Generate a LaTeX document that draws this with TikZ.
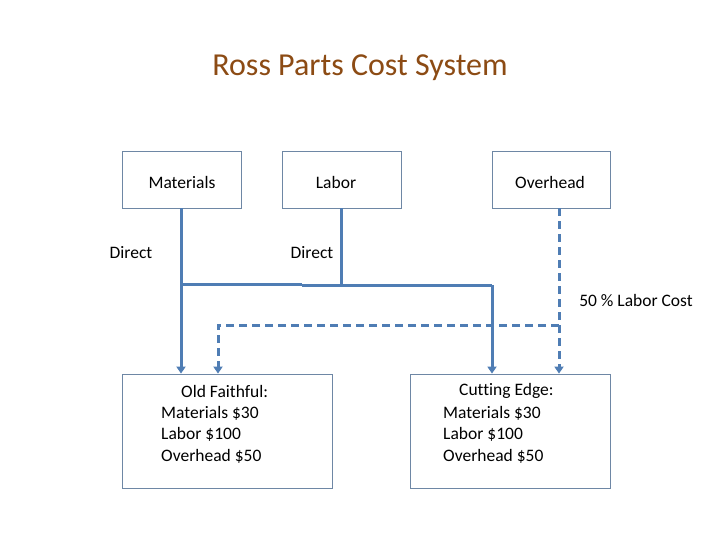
\documentclass[tikz,border=0pt]{standalone}
\usepackage{fontspec}
\setmainfont[Ligatures=CommonOff]{Carlito}
\usetikzlibrary{arrows.meta}
\definecolor{titlecol}{RGB}{140,75,20}
\definecolor{linecol}{RGB}{79,125,180}
\definecolor{boxcol}{RGB}{110,135,165}
\begin{document}
\begin{tikzpicture}[x=1pt,y=-1pt,
  box/.style={draw=boxcol,line width=0.8pt,fill=white,inner sep=0pt},
  conn/.style={draw=linecol,line width=3pt},
  dconn/.style={draw=linecol,line width=3pt,dash pattern=on 8pt off 5pt},
  arr/.style={-{Triangle[width=9pt,length=7pt]}},
  lbl/.style={font=\fontsize{17.5}{20}\selectfont,inner sep=0pt}]
\useasboundingbox (0,0) rectangle (720,540);
\node[font=\fontsize{32}{38}\selectfont,text=titlecol] (title) at (360,68) {Ross Parts Cost System};
% top boxes
\node[box,minimum width=119pt,minimum height=57pt] (mat) at (181.5,179.5) {};
\node[lbl] at (182,182) {Materials};
\node[box,minimum width=119pt,minimum height=57pt] (lab) at (341.5,179.5) {};
\node[lbl] at (336,182) {Labor};
\node[box,minimum width=118pt,minimum height=57pt] (ovh) at (551,179.5) {};
\node[lbl] at (550,182) {Overhead};
% bottom boxes
\node[box,minimum width=210pt,minimum height=114pt] (of) at (227,431) {};
\node[box,minimum width=200pt,minimum height=114pt] (ce) at (510,431) {};
\node[lbl,anchor=west] (of1) at (181,391) {Old Faithful:};
\node[lbl,anchor=west] (of2) at (161,413) {Materials \$30};
\node[lbl,anchor=west] (of3) at (161,434) {Labor \$100};
\node[lbl,anchor=west] (of4) at (161,456) {Overhead \$50};
\node[lbl,anchor=west] (ce1) at (459,391) {Cutting Edge:};
\node[lbl,anchor=west] (ce2) at (443,413) {Materials \$30};
\node[lbl,anchor=west] (ce3) at (443,434) {Labor \$100};
\node[lbl,anchor=west] (ce4) at (443,456) {Overhead \$50};
% labels
\node[lbl] (d1) at (131,253) {Direct};
\node[lbl] (d2) at (312,253) {Direct};
\node[lbl] (lc) at (636,300) {50 \% Labor Cost};
% junction coordinates
\coordinate (j1) at (181,284);
\coordinate (j2) at (302,284);
\coordinate (j3) at (302,285);
\coordinate (j4) at (341,285);
\coordinate (j5) at (492,285);
\coordinate (k1) at (559,325);
\coordinate (k2) at (218,325);
% solid connectors
\draw[conn,arr] (mat.south -| j1) -- (of.north -| j1);
\draw[conn] (j1) -- (j2);
\draw[conn] (j3) -- (j5);
\draw[conn] (lab.south -| j4) -- (j4);
\draw[conn,arr] (j5) -- (ce.north -| j5);
% dashed connectors
\draw[dconn,arr] (ovh.south -| k1) -- (ce.north -| k1);
\draw[dconn,arr] (k1) -- (k2) -- (of.north -| k2);
\end{tikzpicture}
\end{document}
